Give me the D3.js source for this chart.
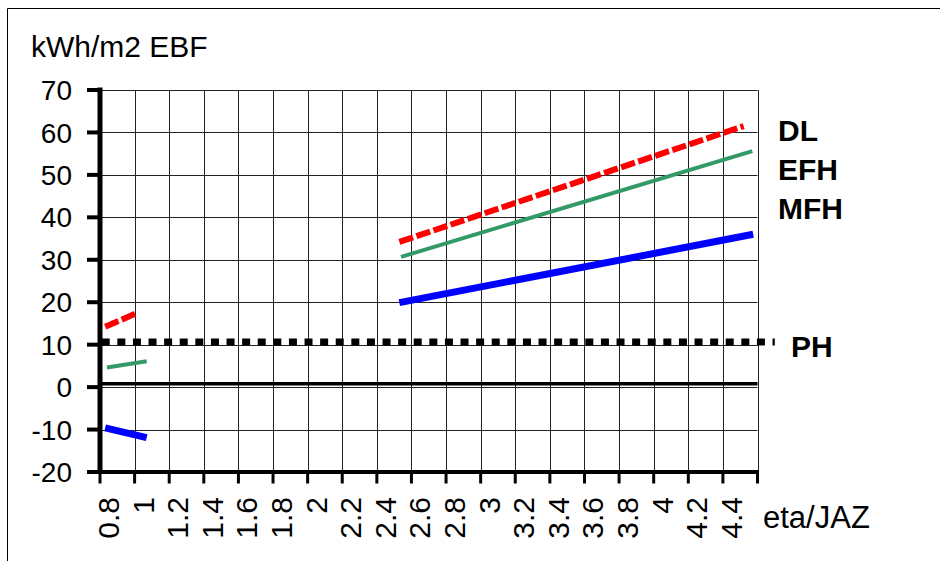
<!DOCTYPE html>
<html>
<head>
<meta charset="utf-8">
<script src="https://cdn.jsdelivr.net/npm/d3@7"></script>
<style>
  html, body { margin: 0; padding: 0; background: #fff; }
  svg { display: block; font-family: "Liberation Sans", Arial, sans-serif; }
</style>
</head>
<body>
<svg id="chart" width="940" height="561"></svg>
<script>
// ---- data ----
const xTickValues = [0.8,1.0,1.2,1.4,1.6,1.8,2.0,2.2,2.4,2.6,2.8,3.0,3.2,3.4,3.6,3.8,4.0,4.2,4.4,4.6];
const xTickLabels = ["0.8","1","1.2","1.4","1.6","1.8","2","2.2","2.4","2.6","2.8","3","3.2","3.4","3.6","3.8","4","4.2","4.4",""];
const yTickValues = [-20,-10,0,10,20,30,40,50,60,70];
const yTickLabels = ["-20","-10","0","10","20","30","40","50","60","70"];

const seriesNames = ["DL","EFH","MFH"];
// low segment (eta region) and high segment (JAZ region)
const dlLowX  = [0.83, 1.01];  const dlLowY  = [14.2, 17.4];
const dlHighX = [2.53, 4.52];  const dlHighY = [34.2, 61.5];
const efhLowX  = [0.84, 1.07]; const efhLowY  = [4.6, 6.1];
const efhHighX = [2.54, 4.57]; const efhHighY = [30.7, 55.6];
const mfhLowX  = [0.83, 1.07]; const mfhLowY  = [-9.6, -11.9];
const mfhHighX = [2.53, 4.575]; const mfhHighY = [19.9, 36.0];
const phX = [0.81, 4.70]; const phY = [10.6, 10.6];
const baseX = [0.8, 4.6]; const baseY = [0.8, 0.8];

// ---- layout ----
const svg = d3.select("#chart");
const x = d3.scaleLinear().domain([0.8, 4.6]).range([100, 757.5]);
const y = d3.scaleLinear().domain([-20, 70]).range([472, 90]);

// outer frame
svg.append("path").attr("d", "M7.5,561 V8.5 H940").attr("fill","none").attr("stroke","#000").attr("stroke-width",1);

// gridlines
const grid = svg.append("g");
grid.selectAll("line.v").data(xTickValues.slice(1)).enter().append("line")
  .attr("x1", d => Math.round(x(d)) + 0.5).attr("x2", d => Math.round(x(d)) + 0.5)
  .attr("y1", y(70)).attr("y2", y(-20))
  .attr("stroke", "#222").attr("stroke-width", 1);
grid.selectAll("line.h").data(yTickValues.slice(1)).enter().append("line")
  .attr("x1", x(0.8)).attr("x2", x(4.6))
  .attr("y1", d => Math.round(y(d)) + 0.5).attr("y2", d => Math.round(y(d)) + 0.5)
  .attr("stroke", "#222").attr("stroke-width", 1);

// y axis
const yAxis = svg.append("g");
yAxis.append("line").attr("x1", x(0.8)).attr("x2", x(0.8)).attr("y1", y(70) - 2.5).attr("y2", y(-20) + 2)
  .attr("stroke", "#000").attr("stroke-width", 5);
yAxis.selectAll("line.t").data(yTickValues).enter().append("line")
  .attr("x1", x(0.8) - 13).attr("x2", x(0.8))
  .attr("y1", d => y(d)).attr("y2", d => y(d))
  .attr("stroke", "#000").attr("stroke-width", 4);
yAxis.selectAll("text").data(yTickValues).enter().append("text")
  .attr("x", 72).attr("y", d => y(d)).attr("dy", "0.36em")
  .attr("text-anchor", "end").attr("font-size", 28)
  .text((d, i) => yTickLabels[i]);

// x axis
const xAxis = svg.append("g");
xAxis.append("line").attr("x1", x(0.8)).attr("x2", x(4.6) + 1.5).attr("y1", y(-20)).attr("y2", y(-20))
  .attr("stroke", "#000").attr("stroke-width", 4);
xAxis.selectAll("line.t").data(xTickValues).enter().append("line")
  .attr("x1", d => x(d)).attr("x2", d => x(d))
  .attr("y1", y(-20)).attr("y2", y(-20) + 11.5)
  .attr("stroke", "#000").attr("stroke-width", 3);
xAxis.selectAll("text").data(xTickValues).enter().append("text")
  .attr("transform", d => `translate(${x(d) + 19},497) rotate(-90)`)
  .attr("text-anchor", "end").attr("font-size", 30)
  .text((d, i) => xTickLabels[i]);

// axis titles
svg.append("text").attr("x", 31).attr("y", 57).attr("font-size", 30).text("kWh/m2 EBF");
svg.append("text").attr("x", 763).attr("y", 528).attr("font-size", 31).text("eta/JAZ");

// series lines
const line = d3.line().x(d => x(d[0])).y(d => y(d[1]));
function seg(xs, ys, color, width, dash) {
  const p = svg.append("path").datum(xs.map((v, i) => [v, ys[i]]))
    .attr("d", line).attr("fill", "none").attr("stroke", color)
    .attr("stroke-width", width).attr("stroke-linecap", "butt");
  if (dash) p.attr("stroke-dasharray", dash);
  return p;
}
// zero line
seg(baseX, baseY, "#000", 3.5);
// PH
seg(phX, phY, "#000", 7, "8,7.6");
// EFH
seg(efhLowX, efhLowY, "#339966", 4);
seg(efhHighX, efhHighY, "#339966", 4);
// MFH
seg(mfhLowX, mfhLowY, "#0000FF", 7);
seg(mfhHighX, mfhHighY, "#0000FF", 7);
// DL
seg(dlLowX, dlLowY, "#FF0000", 6, "14.5,3.5");
seg(dlHighX, dlHighY, "#FF0000", 6, "14.5,3.5");

// series labels
const labelY = [141, 180, 219];
svg.selectAll("text.s").data(seriesNames).enter().append("text")
  .attr("x", 778).attr("y", (d, i) => labelY[i])
  .attr("font-size", 30).attr("font-weight", "bold").text(d => d);
svg.append("text").attr("x", 791).attr("y", 357).attr("font-size", 30).attr("font-weight", "bold").text("PH");
</script>
</body>
</html>
